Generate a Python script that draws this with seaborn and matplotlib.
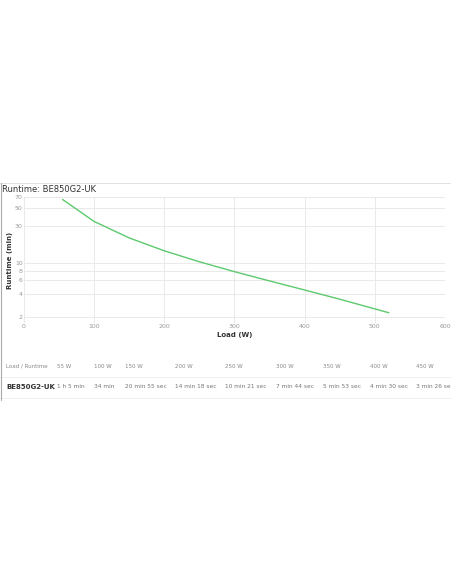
import matplotlib.pyplot as plt
import seaborn as sns
import pandas as pd

loads = [55, 100, 150, 200, 250, 300, 350, 400, 450, 520]
runtime_min = [65, 34, 20.92, 14.3, 10.35, 7.73, 5.88, 4.5, 3.43, 2.3]
y_ticks = [2, 4, 6, 8, 10, 30, 50, 70]
x_ticks = [0, 100, 200, 300, 400, 500, 600]

col_labels = ["Load / Runtime", "55 W", "100 W", "150 W", "200 W", "250 W",
              "300 W", "350 W", "400 W", "450 W"]
row_values = ["BE850G2-UK", "1 h 5 min", "34 min", "20 min 55 sec", "14 min 18 sec",
              "10 min 21 sec", "7 min 44 sec", "5 min 53 sec", "4 min 30 sec", "3 min 26 sec"]
col_x = [6, 57, 94, 125, 175, 225, 276, 323, 370, 416]

sns.set_style("whitegrid")
W, H = 452, 584
fig = plt.figure(figsize=(W / 100, H / 100), dpi=100)
ax = fig.add_axes([24 / W, 1 - 323 / H, 421 / W, 126 / H])

df = pd.DataFrame({"load": loads, "runtime": runtime_min})
sns.lineplot(data=df, x="load", y="runtime", ax=ax, color="#5cc96e", linewidth=1.0)
ax.set_yscale("log")
ax.set_ylim(1.7, 70)
ax.set_xlim(0, 600)
ax.set_yticks(y_ticks)
ax.set_yticklabels([str(t) for t in y_ticks])
ax.minorticks_off()
ax.set_xticks(x_ticks)
ax.tick_params(labelsize=4.5, colors="#999999", pad=1, length=0)
ax.grid(color="#e6e6e6", linewidth=0.6)
for s in ax.spines.values():
    s.set_visible(False)
ax.set_xlabel("Load (W)", fontsize=5, fontweight="bold", color="#333333", labelpad=2)
ax.set_ylabel("Runtime (min)", fontsize=5, fontweight="bold", color="#333333", labelpad=1)

fig.text(2 / W, 1 - 189 / H, "Runtime: BE850G2-UK", fontsize=6, color="#333333", va="center")

# frame lines
fig.add_artist(plt.Line2D([0, 1], [1 - 183 / H] * 2, color="#dddddd", lw=0.6))
for yy in [377, 398]:
    fig.add_artist(plt.Line2D([0, 1], [1 - yy / H] * 2, color="#eeeeee", lw=0.6))
fig.add_artist(plt.Line2D([1 / W] * 2, [1 - 183 / H, 1 - 400 / H], color="#aaaaaa", lw=0.8))

# table
for x, lab in zip(col_x, col_labels):
    fig.text(x / W, 1 - 366 / H, lab, fontsize=4, color="#888888", va="center")
for i, (x, val) in enumerate(zip(col_x, row_values)):
    fig.text(x / W, 1 - 387 / H, val, fontsize=5 if i == 0 else 4.2,
             fontweight="bold" if i == 0 else "normal",
             color="#333333" if i == 0 else "#777777", va="center")

fig.savefig("out.png", dpi=100)
